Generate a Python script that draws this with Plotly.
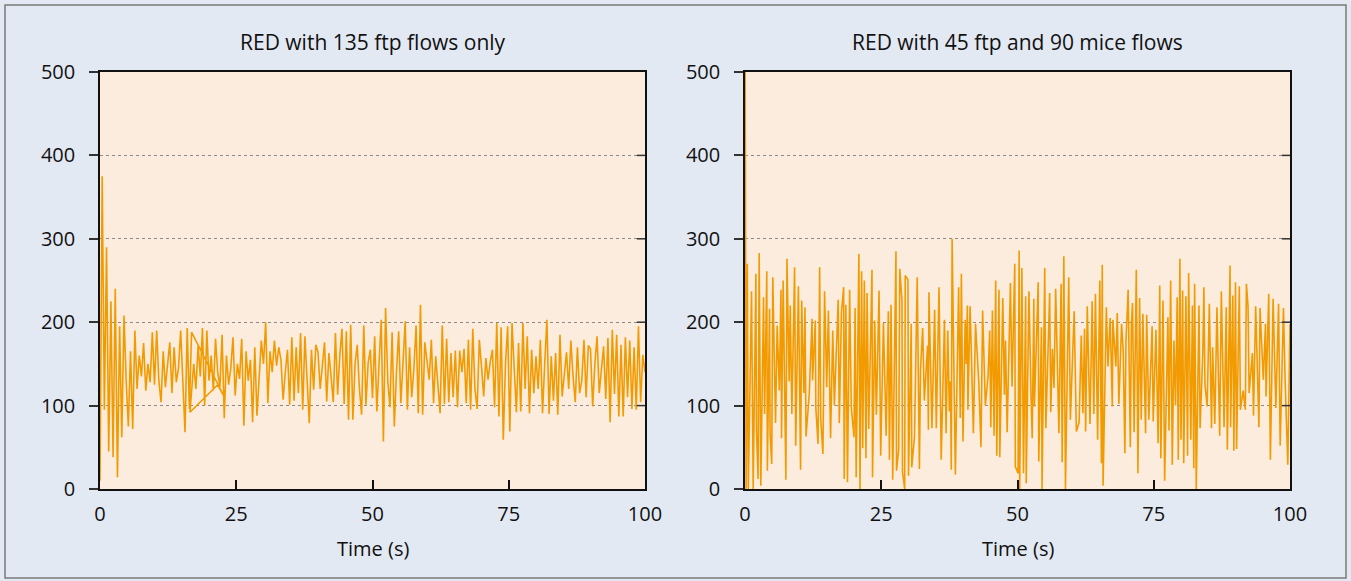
import plotly.graph_objects as go

W, H = 1351, 581

# ---------------- data ----------------
left_v_a = [10, 375, 95, 290, 45, 225, 38, 240, 14, 195, 62, 208, 130, 75, 165, 72, 190, 120, 160, 135,
            175, 118, 150, 128, 188,
            125, 190, 130, 104, 165, 122, 150, 176, 115, 170, 128, 145, 190, 120, 68, 193, 96, 188]
left_loop_t = [22.6, 21.6, 16.5]
left_loop_v = [113, 125, 92]
left_v_b = [150, 120, 172, 135, 193, 100, 190,
            130, 160, 118, 180, 140, 122, 185, 85, 160, 125, 145, 182, 112, 150, 132, 180, 76, 165, 130, 155,
            80, 170, 88, 140, 178,
            150, 200, 103, 165, 140, 178, 148, 170, 155, 107, 140, 167, 101, 182, 106, 170, 115, 187, 95, 183,
            130, 79, 167, 119, 173,
            164, 120, 150, 176, 105, 163, 135, 104, 187, 113, 160, 192, 102, 189, 83, 197, 83, 150, 173, 120,
            89, 196, 101, 151, 167,
            109, 183, 93, 150, 203, 57, 217, 130, 98, 188, 75, 140, 189, 103, 161, 201, 95, 170, 110, 145,
            196, 91, 221, 89, 176,
            150, 131, 179, 103, 159, 130, 91, 196, 102, 180, 104, 163, 110, 166, 98, 166, 140, 168, 103, 179,
            95, 192, 120, 96, 179,
            147, 111, 157, 131, 152, 167, 98, 199, 87, 194, 59, 150, 195, 69, 199, 140, 92, 175, 93, 199,
            120, 183, 91, 167, 115,
            159, 120, 179, 91, 150, 203, 90, 159, 106, 163, 89, 185, 111, 140, 164, 120, 178, 135, 104, 170,
            115, 130, 179, 110, 172,
            168, 99, 150, 183, 115, 140, 171, 108, 181, 80, 191, 114, 185, 87, 173, 87, 182, 110, 178, 96,
            170, 95, 195, 104, 161, 140]

left_t = ([round(0.4 * i, 1) for i in range(0, 43)] + left_loop_t +
          [round(0.4 * i, 1) for i in range(43, 251)])
left_v = left_v_a + left_loop_v + left_v_b

right_pts = [
    (0.0, 620), (0.2, 0), (0.43, 270), (0.6, 0), (1.2, 237), (1.5, 0), (2.0, 258), (2.1, 71), (2.4, 12),
    (2.6, 283), (2.9, 4), (3.4, 230), (3.6, 90), (4.0, 261), (4.1, 22), (4.5, 216), (4.6, 67), (4.9, 30),
    (5.1, 254), (5.4, 151), (5.6, 79), (5.9, 196), (6.3, 118), (6.6, 239), (6.7, 61), (7.0, 250), (7.5, 11),
    (7.7, 276), (8.1, 129), (8.3, 220), (8.6, 90), (9.1, 266), (9.3, 52), (9.8, 243), (10.2, 23),
    (10.4, 226), (10.8, 115), (11.0, 218), (11.2, 63), (11.8, 115), (12.3, 204), (12.4, 130), (12.9, 202),
    (13.0, 97), (13.4, 54), (13.7, 266), (13.9, 83), (14.3, 42), (14.6, 237), (15.0, 122), (15.3, 214),
    (15.7, 61), (16.1, 190), (16.4, 100), (17.1, 227), (17.3, 79), (17.7, 212), (18.1, 242), (18.2, 12),
    (18.5, 221), (18.8, 8), (19.2, 239), (19.5, 98), (20.0, 62), (20.2, 217), (20.4, 14), (20.9, 282),
    (21.1, 0), (21.4, 261), (21.6, 49), (21.9, 250), (22.2, 37), (22.4, 235), (22.7, 72), (23.3, 263),
    (23.4, 14), (23.8, 202), (24.1, 89), (24.6, 238), (24.9, 40), (25.4, 199), (25.9, 64), (26.3, 213),
    (26.5, 35), (26.8, 221), (27.1, 11), (27.7, 285), (27.8, 22), (28.2, 47), (28.4, 264), (28.8, 226),
    (28.9, 20), (29.3, 0), (29.4, 256), (29.9, 251), (30.0, 16), (30.5, 198), (30.6, 26), (31.1, 63),
    (31.6, 254), (32.0, 24), (32.2, 143), (32.6, 193), (32.9, 106), (33.5, 172), (33.65, 71), (33.75, 236),
    (34.3, 73), (34.8, 215), (35.1, 73), (35.6, 242), (36.0, 35), (36.6, 203), (36.9, 67), (37.2, 190),
    (37.5, 93), (37.7, 129), (37.85, 23), (38.0, 300), (38.6, 17), (39.2, 242), (39.5, 85), (39.7, 258),
    (40.0, 57), (40.4, 203), (40.6, 150), (40.8, 220), (40.9, 95), (41.3, 219), (41.5, 172), (41.7, 132),
    (41.9, 67), (42.3, 198), (42.9, 127), (43.3, 50), (43.6, 214), (44.1, 100), (44.6, 136), (44.9, 190),
    (45.1, 74), (45.4, 214), (45.7, 64), (46.0, 250), (46.2, 40), (46.6, 239), (46.75, 38), (47.3, 229),
    (47.6, 113), (47.8, 178), (48.1, 68), (48.7, 247), (49.0, 123), (49.5, 270), (49.6, 27), (50.1, 19),
    (50.3, 286), (50.4, 0), (50.8, 265), (51.1, 19), (51.5, 231), (51.6, 7), (52.1, 237), (52.5, 107),
    (52.7, 61), (53.0, 228), (53.1, 99), (53.8, 248), (53.9, 33), (54.4, 194), (54.5, 0), (55.0, 265),
    (55.2, 73), (55.9, 235), (56.1, 92), (56.4, 168), (56.7, 121), (57.0, 240), (57.6, 67), (58.0, 246),
    (58.2, 32), (58.5, 279), (58.8, 0), (59.4, 254), (59.7, 83), (60.4, 213), (60.8, 69), (61.3, 80),
    (61.7, 184), (62.0, 91), (62.3, 192), (62.5, 69), (62.8, 219), (63.3, 78), (63.7, 225), (64.0, 90),
    (64.3, 234), (64.7, 59), (65.1, 250), (65.4, 31), (65.55, 269), (65.7, 4), (66.3, 218), (66.6, 147),
    (67.0, 205), (67.4, 99), (67.5, 203), (68.05, 147), (68.3, 211), (68.6, 102), (69.1, 198), (69.4, 165),
    (69.7, 43), (69.9, 177), (70.3, 239), (70.7, 50), (70.9, 197), (71.1, 223), (71.4, 68), (71.8, 263),
    (72.1, 19), (72.4, 229), (72.7, 83), (73.0, 210), (73.5, 67), (73.7, 209), (74.1, 83), (74.7, 195),
    (74.9, 81), (75.4, 191), (75.8, 55), (76.1, 244), (76.3, 37), (76.7, 226), (77.0, 10), (77.6, 206),
    (77.8, 70), (78.1, 250), (78.4, 29), (78.7, 178), (79.0, 100), (79.3, 230), (79.5, 35), (79.8, 276),
    (80.0, 59), (80.3, 238), (80.5, 31), (80.9, 231), (81.2, 40), (81.4, 259), (81.8, 59), (82.1, 220),
    (82.35, 25), (82.5, 246), (82.8, 0), (83.3, 220), (83.5, 73), (84.0, 163), (84.2, 242), (84.4, 125),
    (84.8, 99), (85.2, 222), (85.6, 73), (85.8, 170), (86.2, 78), (86.6, 218), (87.1, 64), (87.4, 237),
    (87.9, 74), (88.3, 218), (88.5, 47), (89.0, 268), (89.1, 74), (89.5, 232), (89.7, 46), (90.0, 248),
    (90.2, 48), (90.7, 243), (90.9, 95), (91.4, 118), (91.8, 95), (92.0, 246), (92.3, 219), (92.5, 115),
    (93.1, 163), (93.3, 88), (93.7, 219), (94.3, 74), (94.5, 217), (95.1, 131), (95.5, 198), (95.6, 111),
    (96.1, 234), (96.4, 35), (96.9, 228), (97.4, 97), (97.9, 222), (98.2, 52), (98.8, 217), (99.1, 131),
    (99.6, 29), (100.0, 198)]
right_t = [p[0] for p in right_pts]
right_v = [p[1] for p in right_pts]

titles = ["RED with 135 ftp flows only", "RED with 45 ftp and 90 mice flows"]
x_ticks = [0, 25, 50, 75, 100]
y_ticks = [0, 100, 200, 300, 400, 500]
x_title = "Time (s)"

# ---------------- figure ----------------
LINE = "#f29b00"
FONT = "Open Sans"

fig = go.Figure()
fig.add_trace(go.Scatter(x=left_t, y=left_v, mode="lines", line=dict(color=LINE, width=1.6),
                         xaxis="x", yaxis="y", showlegend=False, hoverinfo="skip"))
fig.add_trace(go.Scatter(x=right_t, y=right_v, mode="lines", line=dict(color=LINE, width=1.6),
                         xaxis="x2", yaxis="y2", showlegend=False, hoverinfo="skip"))

px_x = lambda p: p / W
px_y = lambda p: 1 - p / H
dom_l = [px_x(100), px_x(645)]
dom_r = [px_x(745), px_x(1290)]
dom_y = [px_y(489), px_y(72)]

xa = dict(range=[0, 100], tickvals=x_ticks, ticks="inside", ticklen=9, tickwidth=1.5, tickcolor="#111",
          showline=True, linecolor="#111", linewidth=1.5, mirror=True, showgrid=False, zeroline=False,
          ticklabelstandoff=6, automargin=False, tickfont=dict(size=20))
ya = dict(range=[0, 500], tickvals=y_ticks, ticks="outside", ticklen=9, tickwidth=1.5, tickcolor="#333",
          showline=True, linecolor="#111", linewidth=1.5, mirror=True, showgrid=True, gridcolor="#8a8a8a",
          griddash="dot", gridwidth=1.3, zeroline=False, ticklabelstandoff=10, automargin=False,
          tickfont=dict(size=20))

fig.update_layout(
    template="none",
    width=W, height=H, margin=dict(l=0, r=0, t=0, b=0, pad=0), autosize=False,
    paper_bgcolor="#e3e9f3", plot_bgcolor="#fbecde",
    font=dict(family=FONT, size=18, color="#111"),
    xaxis=dict(domain=dom_l, anchor="y", **xa),
    yaxis=dict(domain=dom_y, anchor="x", **ya),
    xaxis2=dict(domain=dom_r, anchor="y2", **xa),
    yaxis2=dict(domain=dom_y, anchor="x2", **ya),
)

for i, (dom, t) in enumerate(zip([dom_l, dom_r], titles)):
    cx = (dom[0] + dom[1]) / 2
    fig.add_annotation(text=t, x=cx, y=px_y(42), xref="paper", yref="paper",
                       showarrow=False, xanchor="center", yanchor="middle", font=dict(size=21))
    fig.add_annotation(text=x_title, x=cx, y=px_y(548), xref="paper", yref="paper",
                       showarrow=False, xanchor="center", yanchor="middle", font=dict(size=20))
    ax = "x" if i == 0 else "x2"
    ay = "y" if i == 0 else "y2"
    for v in y_ticks[1:-1]:
        fig.add_shape(type="line", xref=f"{ax} domain", yref=ay, x0=0.985, x1=1, y0=v, y1=v,
                      line=dict(color="#333", width=1.5))

fig.add_shape(type="rect", xref="paper", yref="paper", x0=px_x(5), x1=px_x(1346), y0=px_y(578),
              y1=px_y(5), line=dict(color="#7a7a7a", width=1.5), fillcolor="rgba(0,0,0,0)", layer="above")

fig.write_html("out.html", config={"displayModeBar": False},
               post_script="document.body.style.margin='0px';")
